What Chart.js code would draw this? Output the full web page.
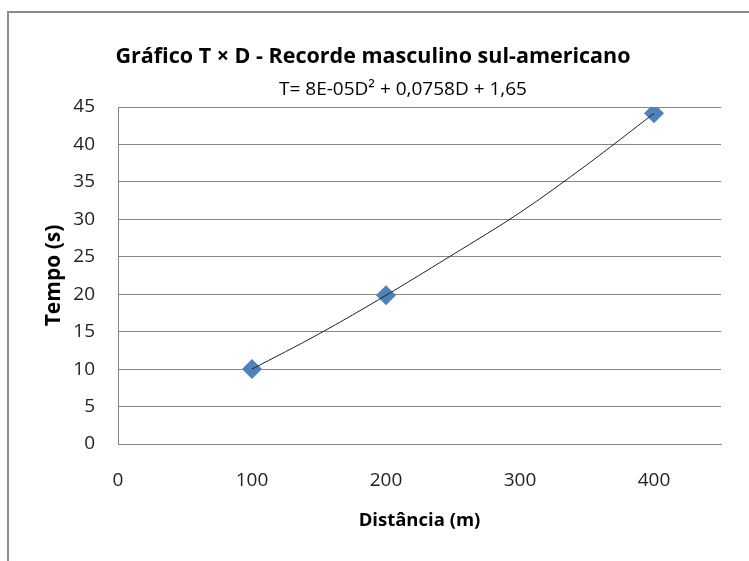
<!DOCTYPE html>
<html>
<head>
<meta charset="utf-8">
<script src="https://cdn.jsdelivr.net/npm/chart.js@4.4.0/dist/chart.umd.min.js"></script>
<style>
  html, body { margin: 0; padding: 0; background: #fff; }
  #wrap { width: 749px; height: 561px; }
</style>
</head>
<body>
<div id="wrap"><canvas id="myChart" width="749" height="561"></canvas></div>
<script>
// Dados
var distancias = [100, 200, 400];
var tempos = [10.0, 19.85, 44.15];
// linha de tendência (lida ao longo da curva)
var tendenciaD = [100, 150, 200, 250, 300, 350, 400];
var tendenciaT = [10.0, 14.7, 19.85, 25.3, 30.9, 37.3, 44.15];
var ticksY = [0, 5, 10, 15, 20, 25, 30, 35, 40, 45];
var titulo = 'Gráfico T × D - Recorde masculino sul-americano';
var equacao = 'T= 8E-05D² + 0,0758D + 1,65';

var fonte = "'Open Sans', sans-serif";

// moldura externa, título e rótulo da equação
var extras = {
    id: 'extras',
    afterDraw: function (chart) {
        var c = chart.ctx;
        c.save();
        c.strokeStyle = '#8c8c8c';
        c.lineWidth = 2;
        c.strokeRect(8, 12, 900, 700);
        c.fillStyle = '#000';
        c.textAlign = 'center';
        c.textBaseline = 'middle';
        c.font = 'bold 21.5px ' + fonte;
        c.fillText(titulo, 373, 57);
        c.font = '19px ' + fonte;
        c.fillText(equacao, 403, 90);
        c.restore();
    }
};

document.addEventListener("DOMContentLoaded", function () {
    var ctx = document.getElementById('myChart').getContext('2d');

    var myChart = new Chart(ctx, {
        type: 'scatter',
        data: {
            datasets: [{
                label: 'Recorde',
                data: distancias.map((d, i) => ({ x: d, y: tempos[i] })),
                pointStyle: 'rectRot',
                pointRadius: 10,
                pointHoverRadius: 10,
                backgroundColor: '#4f81bd',
                borderColor: '#4f81bd',
                borderWidth: 0,
                order: 1
            }, {
                label: 'Tendência',
                type: 'line',
                data: tendenciaD.map((d, i) => ({ x: d, y: tendenciaT[i] })),
                borderColor: '#222',
                borderWidth: 1,
                pointRadius: 0,
                cubicInterpolationMode: 'monotone',
                fill: false,
                order: 0
            }]
        },
        options: {
            responsive: false,
            animation: false,
            layout: { padding: { left: 0, right: 28, top: 107, bottom: 0 } },
            plugins: {
                legend: { display: false },
                tooltip: { enabled: false },
                title: { display: false }
            },
            scales: {
                x: {
                    type: 'linear',
                    min: 0,
                    max: 450,
                    ticks: {
                        stepSize: 100,
                        padding: 25,
                        color: '#222',
                        font: { family: fonte, size: 19 },
                        callback: function (v) { return v % 100 === 0 ? v : ''; }
                    },
                    grid: { display: false, drawTicks: false },
                    border: { display: true, color: '#868686', width: 1 },
                    title: {
                        display: true,
                        text: 'Distância (m)',
                        color: '#000',
                        font: { family: fonte, size: 18.5, weight: 'bold' },
                        padding: { top: 0, bottom: 29 }
                    },
                    afterFit: function (scale) { scale.height = 117; }
                },
                y: {
                    min: 0,
                    max: 45,
                    afterBuildTicks: function (scale) {
                        scale.ticks = ticksY.map(v => ({ value: v }));
                    },
                    ticks: {
                        padding: 23,
                        color: '#222',
                        font: { family: fonte, size: 19 }
                    },
                    grid: { color: '#868686', lineWidth: 1, drawTicks: false },
                    border: { display: true, color: '#868686', width: 1 },
                    title: {
                        display: true,
                        text: 'Tempo (s)',
                        color: '#000',
                        font: { family: fonte, size: 21, weight: 'bold' },
                        padding: { top: 41, bottom: 0 }
                    },
                    afterFit: function (scale) { scale.width = 118; }
                }
            }
        },
        plugins: [extras]
    });
});
</script>
</body>
</html>
